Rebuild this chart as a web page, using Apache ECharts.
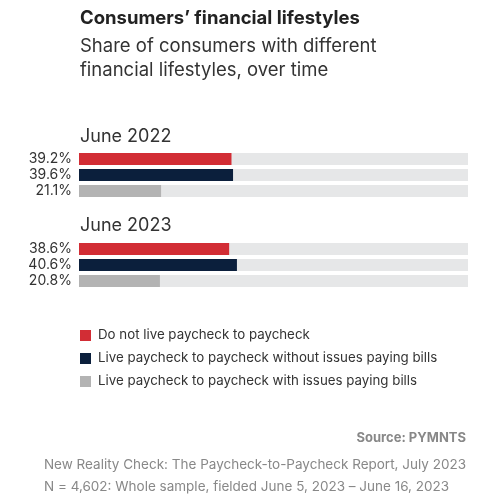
<!DOCTYPE html><html><head><meta charset="utf-8">
<script src="https://cdn.jsdelivr.net/npm/echarts@6/dist/echarts.min.js"></script>
<style>body{margin:0}#c{width:478px;height:503px}</style></head><body><div id="c"></div>
<script>
const categories=["Do not live paycheck to paycheck","Live paycheck to paycheck without issues paying bills","Live paycheck to paycheck with issues paying bills"];
const periods=["June 2022","June 2023"];
const values2022=[39.2,39.6,21.1];
const values2023=[38.6,40.6,20.8];
const colors=["#d22d35","#0b1f3c","#b3b3b3"];
const F="Inter, 'Open Sans', sans-serif";
const sets=[values2022,values2023];
const tops=[151,241];
const grid=[],xAxis=[],yAxis=[],series=[];
sets.forEach((vals,g)=>{
  grid.push({left:79,right:10,top:tops[g],height:48});
  xAxis.push({gridIndex:g,type:'value',min:0,max:100,show:false});
  yAxis.push({gridIndex:g,type:'category',inverse:true,data:vals.map(v=>v.toFixed(1)+'%'),
    axisLine:{show:false},axisTick:{show:false},
    axisLabel:{color:'#333',fontSize:14,fontFamily:F,margin:7,interval:0,hideOverlap:false}});
  series.push({type:'bar',xAxisIndex:g,yAxisIndex:g,barWidth:12,showBackground:true,
    backgroundStyle:{color:'#e6e7e8'},animation:false,
    data:vals.map((v,i)=>({value:v,itemStyle:{color:colors[i]}}))});
});
const graphic=[
 {type:'text',left:80,top:9,style:{text:'Consumers’ financial lifestyles',font:"bold 18.5px "+F,fill:'#222'}},
 {type:'text',left:80,top:34,style:{text:'Share of consumers with different\nfinancial lifestyles, over time',font:"18.5px "+F,fill:'#333',lineHeight:24}},
 {type:'text',left:80,top:128,style:{text:periods[0],font:"18px "+F,fill:'#333'}},
 {type:'text',left:80,top:217,style:{text:periods[1],font:"18px "+F,fill:'#333'}},
 {type:'text',right:12,top:432,style:{text:'Source: PYMNTS',font:"bold 13px "+F,fill:'#888'}},
 {type:'text',right:12,top:454,style:{text:'New Reality Check: The Paycheck-to-Paycheck Report, July 2023\nN = 4,602: Whole sample, fielded June 5, 2023 – June 16, 2023',font:"13.5px "+F,fill:'#888',lineHeight:22,align:'right'}}
];
categories.forEach((c,i)=>{
  graphic.push({type:'rect',shape:{x:80,y:330+i*23,width:11,height:11},style:{fill:colors[i]}});
  graphic.push({type:'text',left:98,top:328+i*23,style:{text:c,font:"13.3px "+F,fill:'#333'}});
});
const chart=echarts.init(document.getElementById('c'));
chart.setOption({animation:false,grid,xAxis,yAxis,series,graphic});
</script></body></html>
